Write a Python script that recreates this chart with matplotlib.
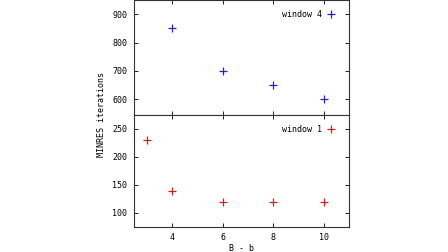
import matplotlib.pyplot as plt

# dados
bb_w4 = [4, 6, 8, 10]
it_w4 = [850, 700, 650, 600]
bb_w1 = [3, 4, 6, 8, 10]
it_w1 = [230, 140, 120, 120, 120]
xticks = [4, 6, 8, 10]

plt.rcParams['font.family'] = 'DejaVu Sans Mono'
plt.rcParams['font.size'] = 6

fig = plt.figure(figsize=(4.48, 2.52), dpi=100)
ax1 = fig.add_axes([134/448, 1 - 115/252, 215/448, 115/252])
ax2 = fig.add_axes([134/448, 1 - 227/252, 215/448, 112/252])

ax1.plot(bb_w4, it_w4, '+', color='#2222cc', ms=6, mew=0.9, label='window 4')
ax2.plot(bb_w1, it_w1, '+', color='#cc2222', ms=6, mew=0.9, label='window 1')

ax1.set_ylim(545, 950)
ax2.set_ylim(75, 275)
ax1.set_yticks([600, 700, 800, 900])
ax2.set_yticks([100, 150, 200, 250])

for ax in (ax1, ax2):
    ax.set_xlim(2.5, 11)
    ax.set_xticks(xticks)
    ax.tick_params(direction='in', top=True, right=True, length=3, width=0.7,
                   colors='#222222', labelcolor='black')
    ax.tick_params(axis='y', pad=5)
    ax.tick_params(axis='x', pad=4)
    for s in ax.spines.values():
        s.set_linewidth(0.8)
        s.set_color('#333333')
    ax.legend(loc='upper right', frameon=False, markerfirst=False,
              handletextpad=0.5, borderaxespad=0.0, handlelength=1.0,
              fontsize=6, bbox_to_anchor=(0.95, 0.94))
ax1.tick_params(labelbottom=False)

ax2.set_xlabel('B - b', labelpad=2)
fig.text(101/448, 1 - 115/252, 'MINRES iterations', rotation=90,
         ha='center', va='center', fontsize=6)

fig.savefig('out.png', dpi=100)
